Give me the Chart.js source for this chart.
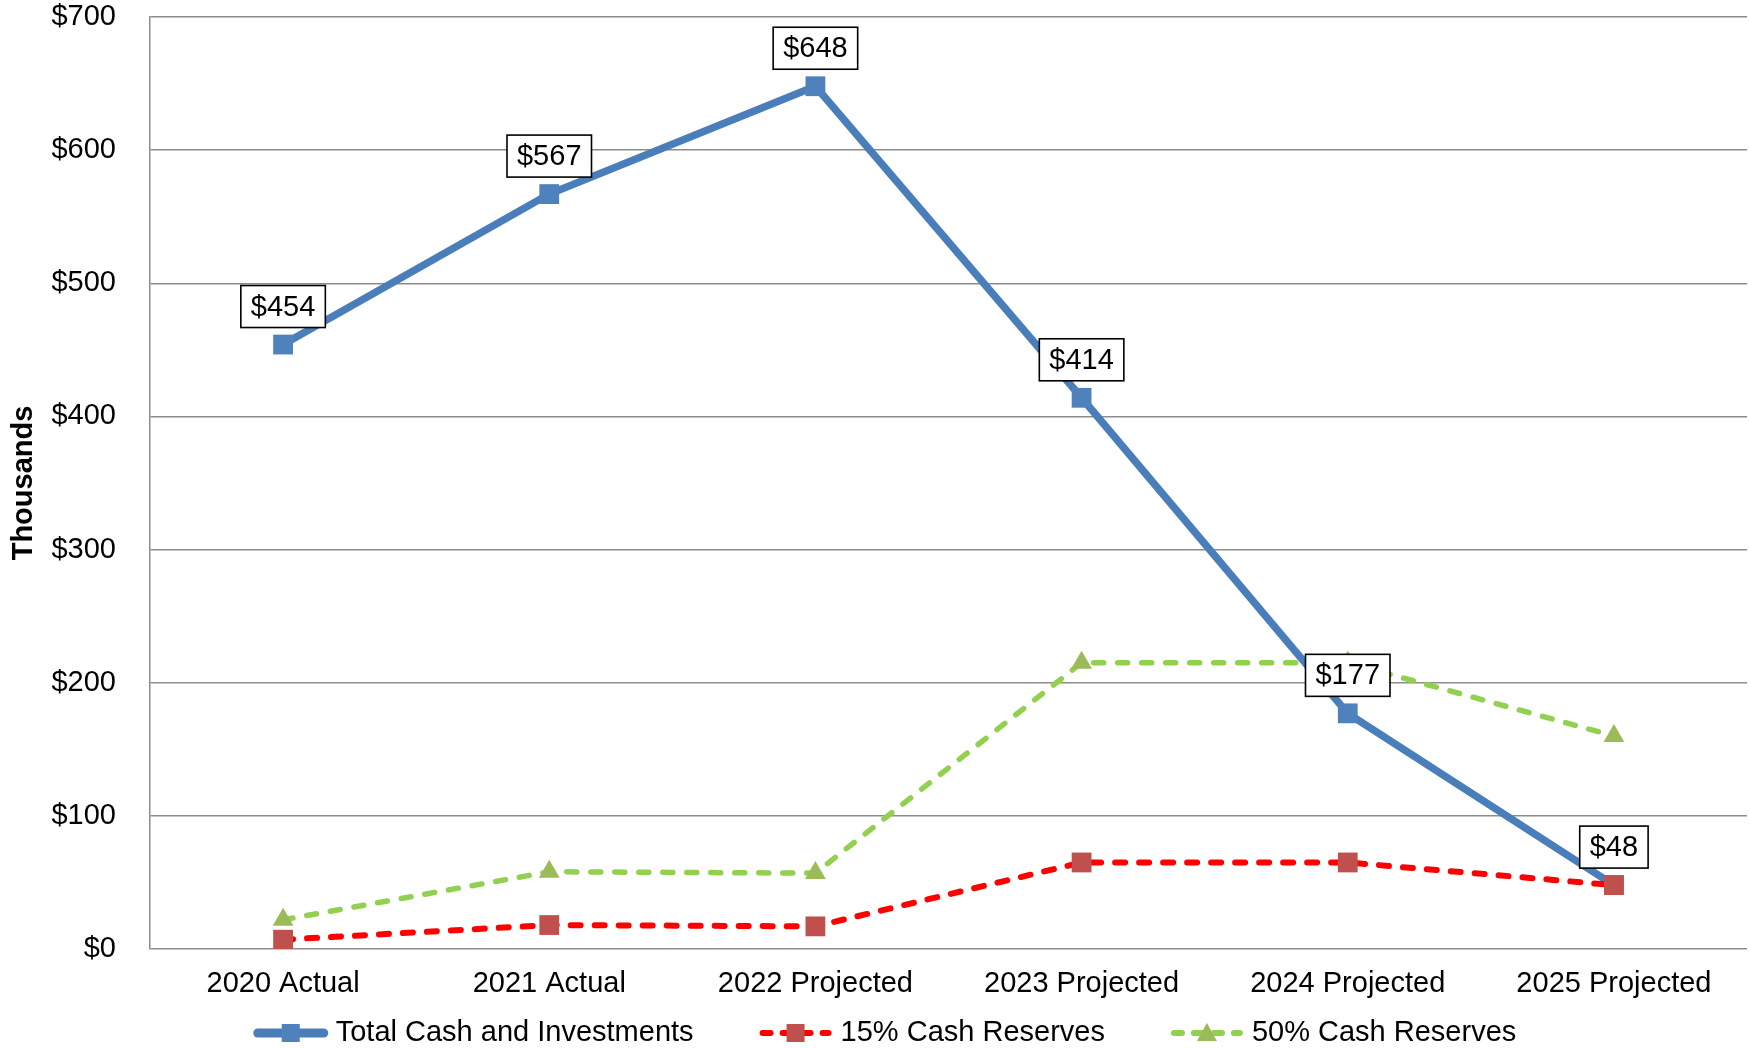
<!DOCTYPE html>
<html>
<head>
<meta charset="utf-8">
<title>Cash and Investments</title>
<script src="https://cdn.jsdelivr.net/npm/chart.js@4"></script>
<style>
  body { margin: 0; background: #fff; }
  canvas { display: block; }
</style>
</head>
<body>
<canvas id="cashChart" width="1750" height="1048"></canvas>
<script>
// values in thousands of dollars
const years = ['2020 Actual', '2021 Actual', '2022 Projected', '2023 Projected', '2024 Projected', '2025 Projected'];
const totalCash = [454, 567, 648, 414, 177, 48];
const reserves15 = [7, 18, 17, 65, 65, 48];
const reserves50 = [22, 58, 57, 215, 215, 160];
const yTicks = [0, 100, 200, 300, 400, 500, 600, 700];

const FONT = '"Liberation Sans", Arial, sans-serif';
const FONT_SIZE = 29;
const BLUE_LINE = '#4a7ebb', BLUE_MARK = '#4f81bd';
const RED_LINE = '#ff0000', RED_MARK = '#c0504d';
const GREEN_LINE = '#92d050', GREEN_MARK = '#9bbb59';

// boxed value labels above the total line
const valueLabels = {
    id: 'valueLabels',
    afterDatasetsDraw(chart) {
        const meta = chart.getDatasetMeta(0);
        const data = chart.data.datasets[0].data;
        const ctx = chart.ctx;
        ctx.save();
        ctx.font = FONT_SIZE + 'px ' + FONT;
        ctx.textAlign = 'center';
        ctx.textBaseline = 'middle';
        meta.data.forEach((pt, i) => {
            const text = '$' + data[i];
            const w = ctx.measureText(text).width + 20;
            const h = 42;
            const x = pt.x - w / 2;
            const y = pt.y - 17 - h;
            ctx.fillStyle = '#fff';
            ctx.fillRect(x, y, w, h);
            ctx.strokeStyle = '#000';
            ctx.lineWidth = 1.6;
            ctx.strokeRect(x, y, w, h);
            ctx.fillStyle = '#000';
            ctx.fillText(text, pt.x, y + h / 2 + 1);
        });
        ctx.restore();
    }
};

// legend row under the category labels: line sample + marker + name
const lineLegend = {
    id: 'lineLegend',
    afterDraw(chart) {
        const ctx = chart.ctx;
        const sets = chart.data.datasets;
        const iconW = 74, textGap = 8, itemGap = 65;
        const y = 1033;
        ctx.save();
        ctx.font = FONT_SIZE + 'px ' + FONT;
        const widths = sets.map(ds => ctx.measureText(ds.label).width);
        const total = widths.reduce((s, w) => s + iconW + textGap + w, 0) + itemGap * (sets.length - 1);
        let x = chart.width / 2 + 10 - total / 2;
        sets.forEach((ds, i) => {
            ctx.strokeStyle = ds.borderColor;
            ctx.lineCap = 'round';
            ctx.lineWidth = ds.borderDash ? 6 : 9;
            ctx.setLineDash(ds.borderDash ? [8, 12] : []);
            ctx.beginPath();
            ctx.moveTo(x + 4, y);
            ctx.lineTo(x + iconW - 4, y);
            ctx.stroke();
            ctx.setLineDash([]);
            ctx.fillStyle = ds.pointBackgroundColor;
            const cx = x + iconW / 2;
            if (ds.pointStyle === 'triangle') {
                ctx.beginPath();
                ctx.moveTo(cx, y - 10);
                ctx.lineTo(cx + 10, y + 8);
                ctx.lineTo(cx - 10, y + 8);
                ctx.closePath();
                ctx.fill();
            } else {
                ctx.fillRect(cx - 9, y - 9, 18, 18);
            }
            ctx.fillStyle = '#000';
            ctx.textBaseline = 'middle';
            ctx.textAlign = 'left';
            ctx.fillText(ds.label, x + iconW + textGap, y);
            x += iconW + textGap + widths[i] + itemGap;
        });
        ctx.restore();
    }
};

new Chart(document.getElementById('cashChart'), {
    type: 'line',
    data: {
        labels: years,
        datasets: [
            {
                label: 'Total Cash and Investments',
                data: totalCash,
                borderColor: BLUE_LINE,
                borderWidth: 7.5,
                pointStyle: 'rect',
                pointRadius: 14,
                pointBackgroundColor: BLUE_MARK,
                pointBorderColor: BLUE_MARK,
                pointBorderWidth: 0,
                order: 2,
            },
            {
                label: '15% Cash Reserves',
                data: reserves15,
                borderColor: RED_LINE,
                borderWidth: 6,
                borderDash: [10, 14],
                borderCapStyle: 'round',
                pointStyle: 'rect',
                pointRadius: 14,
                pointBackgroundColor: RED_MARK,
                pointBorderColor: RED_MARK,
                pointBorderWidth: 0,
                order: 1,
            },
            {
                label: '50% Cash Reserves',
                data: reserves50,
                borderColor: GREEN_LINE,
                borderWidth: 5.5,
                borderDash: [10, 14],
                borderCapStyle: 'round',
                pointStyle: 'triangle',
                pointRadius: 12,
                pointBackgroundColor: GREEN_MARK,
                pointBorderColor: GREEN_MARK,
                pointBorderWidth: 0,
                order: 1,
            },
        ],
    },
    options: {
        responsive: false,
        animation: false,
        layout: { autoPadding: false, padding: { top: 17, right: 3, left: 2, bottom: 49 } },
        plugins: {
            tooltip: { enabled: false },
            legend: { display: false },
        },
        scales: {
            x: {
                offset: true,
                grid: { display: false, drawTicks: false },
                border: { display: false },
                ticks: {
                    color: '#000',
                    font: { family: FONT, size: FONT_SIZE },
                    padding: 18,
                    maxRotation: 0,
                    autoSkip: false,
                },
                afterFit(axis) {
                    axis.paddingLeft = 0;
                    axis.paddingRight = 0;
                    axis.height = 50;
                },
            },
            y: {
                min: 0,
                max: 700,
                afterBuildTicks(axis) {
                    axis.ticks = yTicks.map(v => ({ value: v }));
                },
                afterFit(axis) {
                    axis.paddingTop = 0;
                    axis.paddingBottom = 0;
                    axis.width = 148;
                },
                grid: { color: '#8c8c8c', lineWidth: 1.5, drawTicks: false },
                border: { color: '#8c8c8c', width: 1.5 },
                ticks: {
                    color: '#000',
                    font: { family: FONT, size: FONT_SIZE },
                    padding: 34,
                    callback: v => '$' + v,
                },
                title: {
                    display: true,
                    text: 'Thousands',
                    color: '#000',
                    font: { family: FONT, size: FONT_SIZE, weight: 'bold' },
                    padding: { top: 5, bottom: 10 },
                },
            },
        },
    },
    plugins: [valueLabels, lineLegend],
});
</script>
</body>
</html>
